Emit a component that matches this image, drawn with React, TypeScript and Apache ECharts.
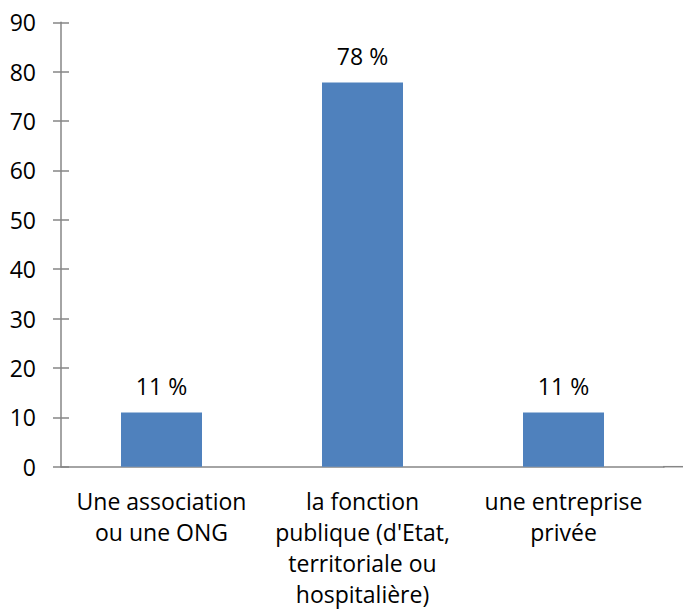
import React, { useEffect, useRef } from "react";
import * as echarts from "echarts";

const categories = [
  "Une association\nou une ONG",
  "la fonction\npublique (d'Etat,\nterritoriale ou\nhospitalière)",
  "une entreprise\nprivée",
];
const values = [11.0, 77.8, 11.0];
const valueLabels = ["11 %", "78 %", "11 %"];
const yMin = 0;
const yMax = 90;
const yInterval = 10;

const FONT = "'Open Sans', Lato, sans-serif";
const AXIS_COLOR = "#868686";
const FS = 23;

export default function App() {
  const ref = useRef<HTMLDivElement>(null);
  useEffect(() => {
    if (!ref.current) return;
    const chart = echarts.init(ref.current, null, { renderer: "svg" });
    chart.setOption({
      animation: false,
      textStyle: { fontFamily: FONT },
      grid: { left: 61, right: 19, top: 22.3, bottom: 146.3, containLabel: false },
      xAxis: {
        type: "category",
        data: categories,
        axisLine: { lineStyle: { color: AXIS_COLOR, width: 1.5 } },
        axisTick: { show: false },
        axisLabel: {
          color: "#000",
          fontSize: FS,
          lineHeight: 31,
          margin: 19,
          fontFamily: FONT,
          interval: 0,
        },
      },
      yAxis: [
        {
          type: "value",
          min: yMin,
          max: yMax,
          interval: yInterval,
          splitLine: { show: false },
          axisLine: { show: true, lineStyle: { color: AXIS_COLOR, width: 1.5 } },
          axisTick: { show: true, length: 8, lineStyle: { color: AXIS_COLOR, width: 1.5 } },
          axisLabel: { color: "#000", fontSize: FS, margin: 25, fontFamily: FONT },
        },
        {
          type: "value",
          position: "left",
          min: yMin,
          max: yMax,
          interval: yInterval,
          splitLine: { show: false },
          axisLine: { show: false },
          axisTick: { show: true, inside: true, length: 8, lineStyle: { color: AXIS_COLOR, width: 1.5 } },
          axisLabel: { show: false },
        },
      ],
      graphic: [
        {
          type: "line",
          shape: { x1: 663, y1: 466.7, x2: 683, y2: 466.7 },
          style: { stroke: AXIS_COLOR, lineWidth: 1.5 },
        },
      ],
      series: [
        {
          type: "bar",
          yAxisIndex: 0,
          data: values,
          barWidth: 81,
          itemStyle: { color: "#4F81BD" },
          label: {
            show: true,
            position: "top",
            distance: 15,
            color: "#000",
            fontSize: FS,
            fontFamily: FONT,
            formatter: (p: any) => valueLabels[p.dataIndex],
          },
        },
      ],
    });
    return () => chart.dispose();
  }, []);
  return <div ref={ref} style={{ width: 683, height: 613, position: "absolute", left: 0, top: 0 }} />;
}
